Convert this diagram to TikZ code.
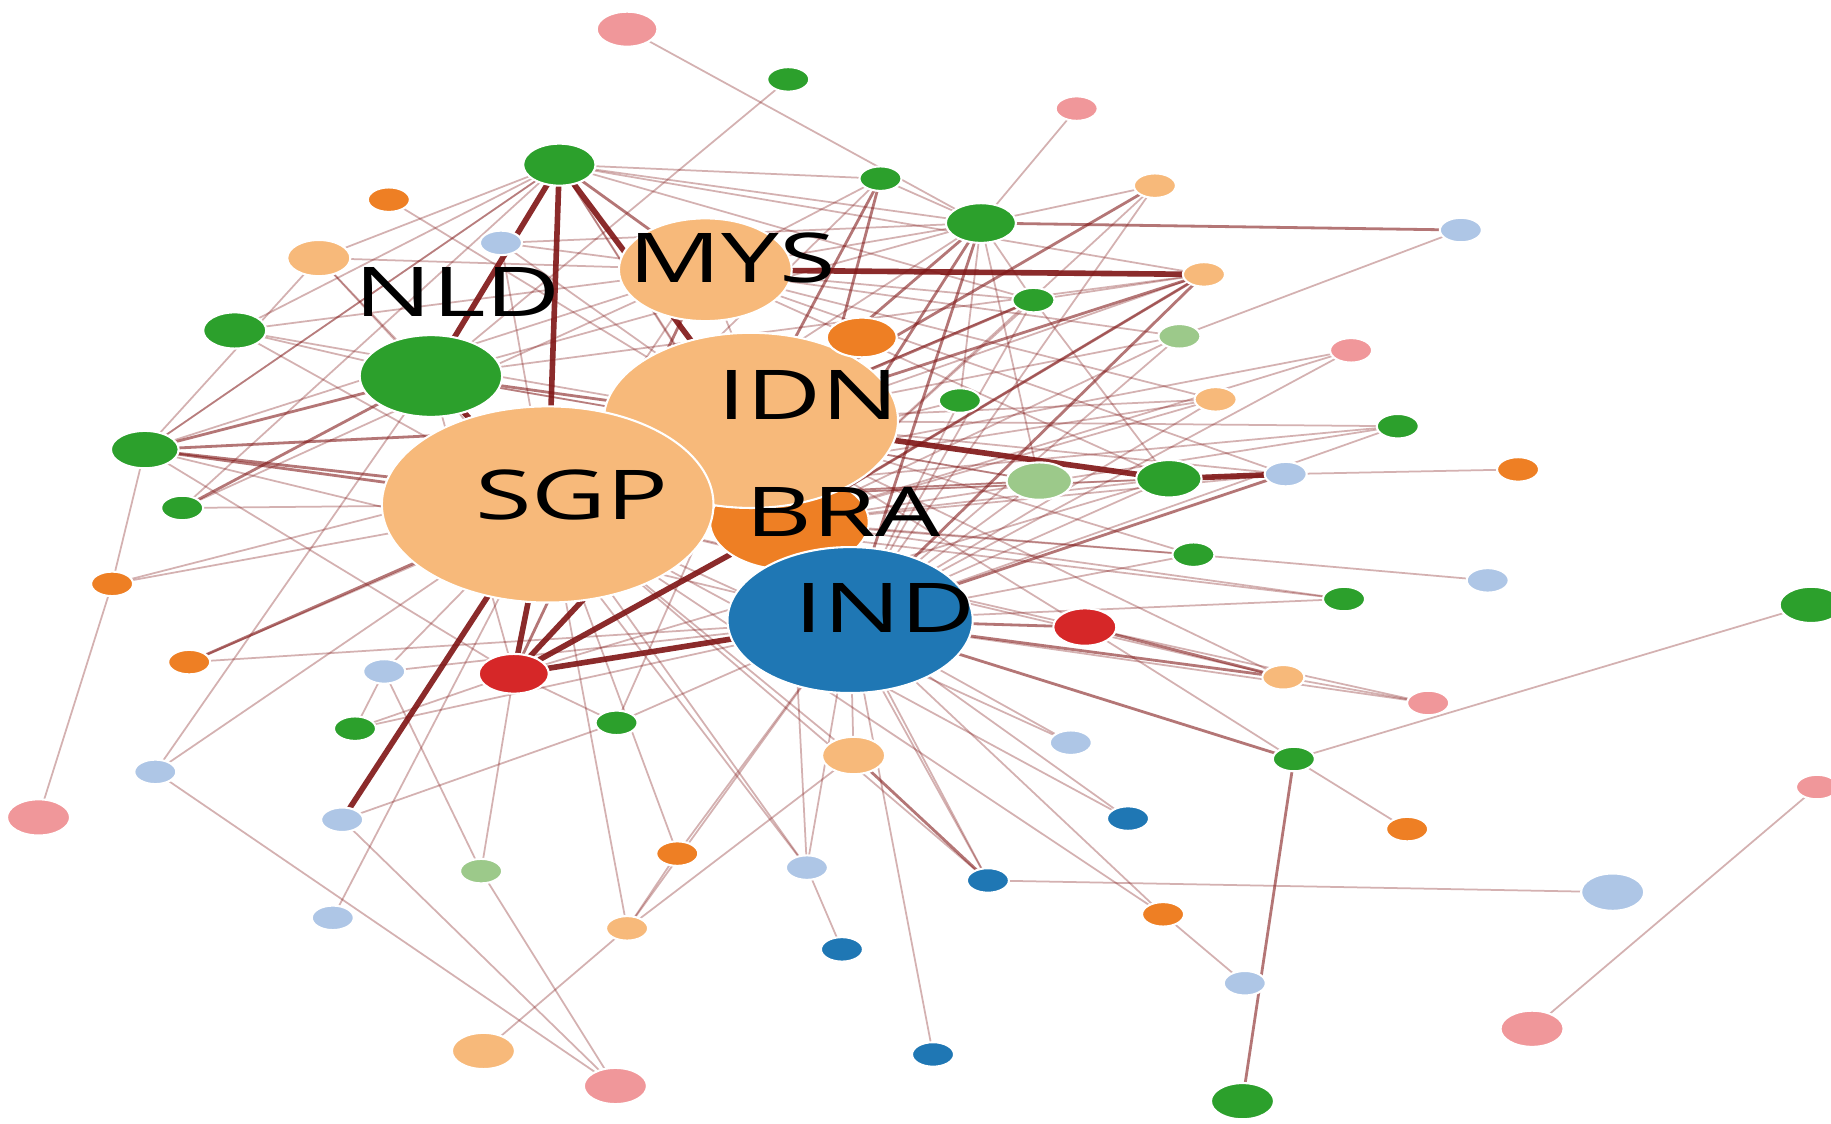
\documentclass[tikz,border=0pt]{standalone}
\usepackage{fontspec}
\setmainfont{Open Sans}
\usepackage{graphicx}
\usetikzlibrary{shapes.geometric}
\pgfdeclarelayer{bg}
\pgfdeclarelayer{edges}
\pgfdeclarelayer{labels}
\pgfsetlayers{bg,edges,main,labels}
\definecolor{cgreen}{HTML}{2CA02C}
\definecolor{clgreen}{HTML}{9CC98A}
\definecolor{corange}{HTML}{EE7F24}
\definecolor{clorange}{HTML}{F7B97A}
\definecolor{cpink}{HTML}{F0979A}
\definecolor{cred}{HTML}{D62728}
\definecolor{cblue}{HTML}{1F77B4}
\definecolor{clblue}{HTML}{AEC6E6}
\definecolor{edgec}{HTML}{7F1414}
\tikzset{
  netnd/.style={ellipse, draw=white, line width=0.9pt, inner sep=0pt, outer sep=0pt},
  et/.style={draw=edgec, line width=0.75pt, opacity=0.33},
  em/.style={draw=edgec, line width=1.2pt, opacity=0.58},
  ek/.style={draw=edgec, line width=2.4pt, opacity=0.9},
  lab/.style={inner sep=0pt, text=black, font=\fontsize{29.4}{30}\selectfont}
}
\newcommand{\netnode}[6]{\node[netnd, fill=#6, minimum width=#4*0.5pt, minimum height=#5*0.5pt] (#1) at (#2,#3) {};}
\begin{document}
\begin{tikzpicture}[x=0.5pt,y=-0.5pt]
\useasboundingbox (0,0) rectangle (1568,962);
\begin{pgfonlayer}{bg}
\fill[white] (0,0) rectangle (1568,962);
\end{pgfonlayer}
% small / medium nodes
\netnode{p1}{537}{25}{52}{30}{cpink}
\netnode{g2}{675}{68}{36}{21}{cgreen}
\netnode{p3}{922}{93}{36}{21}{cpink}
\netnode{g4}{479}{141}{62}{36}{cgreen}
\netnode{g5}{754}{153}{36}{21}{cgreen}
\netnode{lo6}{989}{159}{36}{21}{clorange}
\netnode{o7}{333}{171}{36}{21}{corange}
\netnode{g8}{840}{191}{60}{34}{cgreen}
\netnode{lb9}{1251}{197}{36}{21}{clblue}
\netnode{lb10}{429}{208}{36}{21}{clblue}
\netnode{lo11}{273}{221}{54}{31}{clorange}
\netnode{lo13}{1031}{235}{36}{21}{clorange}
\netnode{g14}{885}{257}{36}{21}{cgreen}
\netnode{g15}{201}{283}{54}{31}{cgreen}
\netnode{lg17}{1010}{288}{36}{21}{clgreen}
\netnode{p18}{1157}{300}{36}{21}{cpink}
\netnode{g21}{822}{343}{36}{21}{cgreen}
\netnode{lo22}{1041}{342}{36}{21}{clorange}
\netnode{g23}{1197}{365}{36}{21}{cgreen}
\netnode{g24}{124}{385}{58}{32}{cgreen}
\netnode{lg26}{890}{412}{56}{32}{clgreen}
\netnode{g27}{1001}{410}{56}{32}{cgreen}
\netnode{lb28}{1101}{406}{36}{21}{clblue}
\netnode{o29}{1300}{402}{36}{21}{corange}
\netnode{g30}{156}{435}{36}{21}{cgreen}
\netnode{g32}{1022}{475}{36}{21}{cgreen}
\netnode{lb33}{1274}{497}{36}{21}{clblue}
\netnode{o34}{96}{500}{36}{21}{corange}
\netnode{g35}{1151}{513}{36}{21}{cgreen}
\netnode{g36}{1551}{518}{54}{31}{cgreen}
\netnode{r38}{929}{537}{54}{32}{cred}
\netnode{o39}{162}{567}{36}{21}{corange}
\netnode{lb40}{329}{575}{36}{21}{clblue}
\netnode{r41}{440}{577}{60}{34}{cred}
\netnode{lo42}{1099}{580}{36}{21}{clorange}
\netnode{p43}{1223}{602}{36}{21}{cpink}
\netnode{g44}{304}{624}{36}{21}{cgreen}
\netnode{g45}{528}{619}{36}{21}{cgreen}
\netnode{lb46}{917}{636}{36}{21}{clblue}
\netnode{lo47}{731}{647}{54}{32}{clorange}
\netnode{g48}{1108}{650}{36}{21}{cgreen}
\netnode{lb49}{133}{661}{36}{21}{clblue}
\netnode{p50}{1556}{674}{36}{21}{cpink}
\netnode{p51}{33}{700}{54}{31}{cpink}
\netnode{lb52}{293}{702}{36}{21}{clblue}
\netnode{b53}{966}{701}{36}{21}{cblue}
\netnode{o54}{1205}{710}{36}{21}{corange}
\netnode{o55}{580}{731}{36}{21}{corange}
\netnode{lg56}{412}{746}{36}{21}{clgreen}
\netnode{lb57}{691}{743}{36}{21}{clblue}
\netnode{b58}{846}{754}{36}{21}{cblue}
\netnode{lb59}{1381}{764}{54}{32}{clblue}
\netnode{o60}{996}{783}{36}{21}{corange}
\netnode{lb61}{285}{786}{36}{21}{clblue}
\netnode{lo62}{537}{795}{36}{21}{clorange}
\netnode{b63}{721}{813}{36}{21}{cblue}
\netnode{lb64}{1066}{842}{36}{21}{clblue}
\netnode{p65}{1312}{881}{54}{31}{cpink}
\netnode{lo66}{414}{900}{54}{31}{clorange}
\netnode{b67}{799}{903}{36}{21}{cblue}
\netnode{p68}{527}{930}{54}{31}{cpink}
\netnode{g69}{1064}{943}{54}{31}{cgreen}
% hubs
\netnode{NLD}{369}{322}{122}{70}{cgreen}
\netnode{MYS}{604}{231}{148}{88}{clorange}
\netnode{BRA}{676}{447}{136}{82}{corange}
\netnode{IDN}{643}{360}{252}{150}{clorange}
\netnode{o16}{738}{289}{60}{34}{corange}
\netnode{SGP}{469}{432}{284}{168}{clorange}
\netnode{IND}{728}{531}{210}{125}{cblue}
% edges
\begin{pgfonlayer}{edges}
\foreach \a/\b in {p1/g8, g2/NLD, p3/g8, g5/g8, lo6/g8, g4/g8, g4/g14, g4/g15, g4/lo11, g4/g24, g4/lo13, g4/IND, g4/g5,
  lb10/MYS, lb10/g8, lb10/IDN, lb10/SGP, o7/IDN, lo11/MYS, lo11/SGP, lo11/NLD, g15/MYS, g15/SGP, g15/IDN, g15/NLD,
  MYS/g8, MYS/g5, MYS/g14, MYS/lg17, MYS/IND, MYS/g27, MYS/lo22, MYS/g24, MYS/g30, MYS/lb28, MYS/SGP,
  lo13/SGP, lo13/g14, lo13/BRA, g14/g8, g14/IND, g14/g27, g14/SGP, g14/BRA,
  lg17/lb9, lg17/IDN, lg17/IND, lg17/BRA, p18/IND, p18/BRA, p18/SGP,
  g21/IND, g21/SGP, g21/g8, lo22/IND, lo22/SGP, lo22/IDN, lo22/BRA, g23/IND, g23/BRA, g23/SGP, g23/IDN,
  lg26/SGP, lg26/IND, lg26/g8, lg26/NLD, g27/IND, g27/SGP, g27/BRA,
  lb28/o29, lb28/SGP, lb28/BRA, lb28/IDN, g32/lb33, g32/IDN, g32/IND, g32/SGP, g32/BRA,
  g35/IND, g35/SGP, g35/BRA, g48/g36, g48/o54, g48/r38, r38/SGP, r38/IDN, r38/p43,
  lo42/p43, lo42/SGP, lo42/IDN, IND/lb46, SGP/lb46, IND/b53, SGP/b53, o60/lb64, IND/b67, IND/lb57,
  IND/o55, IND/lo62, IND/g44, IND/lb40, IND/g45, IND/g24, IND/o39, b58/lb59, b58/IND, b58/SGP,
  lb57/b63, lb57/SGP, lb57/NLD, o55/lo62, o55/SGP, lo62/lo66, lo62/lo47, lo62/SGP,
  p68/lb49, p68/lb52, p68/lg56, lb52/g45, lb61/SGP, lg56/r41, lg56/lb40, lb40/g44, lb40/SGP,
  g44/r41, g45/r41, g45/IDN, lb49/SGP, p51/o34, o34/g24, o34/SGP, o34/IDN, o39/IDN, g30/SGP, g30/g4,
  g24/lo11, g24/g4, g24/r41, NLD/r41, NLD/g8, NLD/lo13, NLD/lb49, NLD/lg26, r41/g27, IND/p43,
  SGP/g8, SGP/g5, SGP/lg26, BRA/lb57, BRA/b58, BRA/g4, p65/p50, lo47/IND, lo47/SGP, lo6/IND, lo6/BRA,
  IND/o60, SGP/o60}
  \draw[et] (\a) -- (\b);
\foreach \a/\b in {g4/MYS, SGP/g24, BRA/g24, NLD/g24, NLD/g30, SGP/o39, IDN/g8, IDN/lo13, IDN/lo6,
  IND/r38, IND/g48, IND/lo42, r38/lo42, IND/lo13, IND/g8, lo47/b58, g8/lb9, IND/lb28,
  g48/g69, IDN/g14, BRA/g8, g5/IDN, g5/BRA, MYS/r41,
  IDN/NLD, IDN/g24, BRA/lo13}
  \draw[em] (\a) -- (\b);
\foreach \a/\b in {g4/SGP, g4/NLD, g4/IDN, SGP/r41, IDN/r41, IND/r41, SGP/lb52, MYS/lo13,
  SGP/NLD, BRA/r41, IDN/g27, lb28/g27}
  \draw[ek] (\a) -- (\b);
\end{pgfonlayer}
% labels
\begin{pgfonlayer}{labels}
\node[lab] (tMYS) at (627,221) {\scalebox{1.5}[1]{MYS}};
\node[lab] (tNLD) at (392,250) {\scalebox{1.5}[1]{NLD}};
\node[lab] (tIDN) at (692,338) {\scalebox{1.5}[1]{IDN}};
\node[lab] (tSGP) at (490,424) {\scalebox{1.5}[1]{SGP}};
\node[lab] (tBRA) at (722,438) {\scalebox{1.5}[1]{BRA}};
\node[lab] (tIND) at (758,521) {\scalebox{1.5}[1]{IND}};
\end{pgfonlayer}
\end{tikzpicture}
\end{document}
